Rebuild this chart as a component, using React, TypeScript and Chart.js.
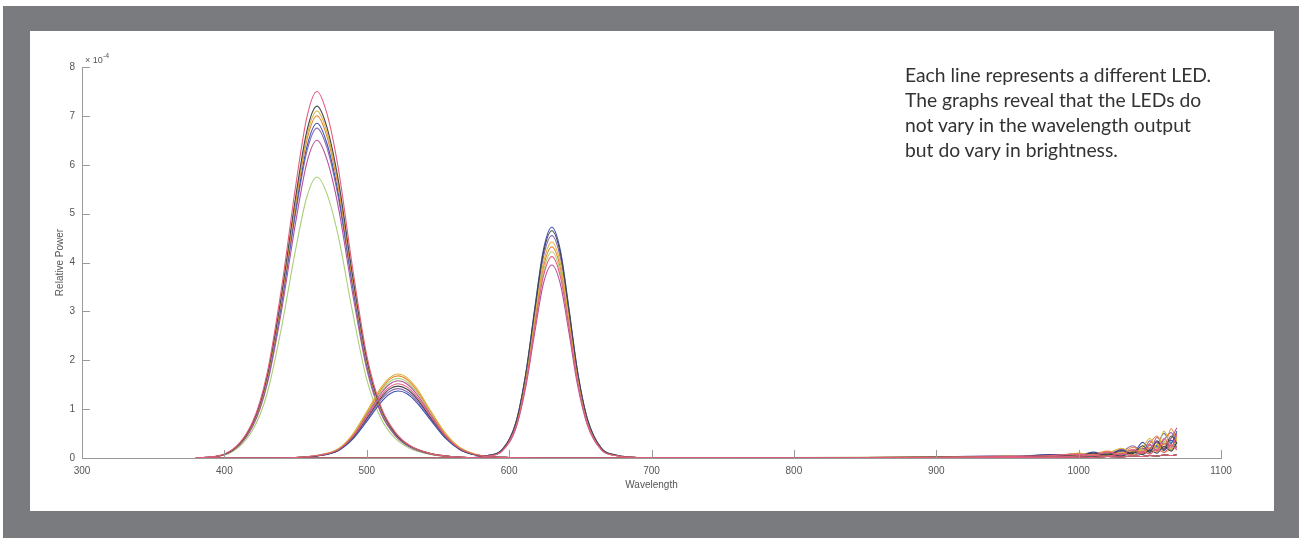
import React, { useEffect, useRef } from "react";
import { Chart, registerables } from "chart.js";
Chart.register(...registerables);

// ---- data (wavelength in nm, relative power in units of 1e-4) ----
const xTickValues = [300, 400, 500, 600, 700, 800, 900, 1000, 1100];
const yTickValues = [0, 1, 2, 3, 4, 5, 6, 7, 8];

const ledColors = ["#e35d7e", "#45454f", "#d9b53c", "#e8893a", "#3b55b0", "#8a6bb5", "#b5509a", "#a9cf78"];

const blueWavelengths = [380, 400, 420, 430, 440, 450, 458, 465, 472, 480, 490, 500, 510, 520, 530, 545, 560, 580];
const blueBand = [
  [0, 0.08, 0.75, 1.73, 3.45, 5.55, 6.98, 7.5, 7.05, 5.93, 3.9, 2.1, 1.05, 0.53, 0.26, 0.09, 0.03, 0],
  [0, 0.07, 0.72, 1.66, 3.31, 5.33, 6.7, 7.2, 6.77, 5.69, 3.74, 2.02, 1.01, 0.5, 0.25, 0.09, 0.03, 0],
  [0, 0.07, 0.71, 1.63, 3.27, 5.25, 6.6, 7.1, 6.67, 5.61, 3.69, 1.99, 0.99, 0.5, 0.25, 0.09, 0.03, 0],
  [0, 0.07, 0.7, 1.61, 3.22, 5.18, 6.51, 7.0, 6.58, 5.53, 3.64, 1.96, 0.98, 0.49, 0.25, 0.08, 0.03, 0],
  [0, 0.07, 0.69, 1.58, 3.15, 5.07, 6.37, 6.85, 6.44, 5.41, 3.56, 1.92, 0.96, 0.48, 0.24, 0.08, 0.03, 0],
  [0, 0.07, 0.68, 1.55, 3.11, 5.0, 6.28, 6.75, 6.35, 5.33, 3.51, 1.89, 0.95, 0.47, 0.24, 0.08, 0.03, 0],
  [0, 0.07, 0.65, 1.5, 2.99, 4.81, 6.05, 6.5, 6.11, 5.14, 3.38, 1.82, 0.91, 0.46, 0.23, 0.08, 0.03, 0],
  [0, 0.06, 0.58, 1.32, 2.65, 4.26, 5.35, 5.75, 5.41, 4.54, 2.99, 1.61, 0.81, 0.4, 0.2, 0.07, 0.02, 0],
];

const greenWavelengths = [380, 430, 450, 465, 480, 490, 500, 510, 516, 522, 528, 535, 545, 555, 565, 575, 585, 600, 620];
const greenBand = [
  [0, 0, 0.01, 0.05, 0.17, 0.43, 0.84, 1.27, 1.45, 1.52, 1.46, 1.26, 0.85, 0.46, 0.2, 0.08, 0.03, 0.01, 0],
  [0, 0, 0.01, 0.04, 0.16, 0.41, 0.81, 1.23, 1.41, 1.47, 1.41, 1.22, 0.82, 0.44, 0.19, 0.07, 0.03, 0.01, 0],
  [0, 0, 0.01, 0.05, 0.19, 0.48, 0.95, 1.44, 1.64, 1.72, 1.65, 1.43, 0.96, 0.52, 0.22, 0.09, 0.03, 0.01, 0],
  [0, 0, 0.01, 0.05, 0.18, 0.47, 0.92, 1.4, 1.61, 1.68, 1.61, 1.39, 0.94, 0.5, 0.22, 0.08, 0.03, 0.01, 0],
  [0, 0, 0.01, 0.04, 0.15, 0.38, 0.75, 1.14, 1.31, 1.37, 1.32, 1.14, 0.77, 0.41, 0.18, 0.07, 0.03, 0.01, 0],
  [0, 0, 0.01, 0.04, 0.16, 0.4, 0.78, 1.19, 1.36, 1.42, 1.36, 1.18, 0.8, 0.43, 0.18, 0.07, 0.03, 0.01, 0],
  [0, 0, 0.01, 0.05, 0.17, 0.44, 0.87, 1.32, 1.51, 1.58, 1.52, 1.31, 0.88, 0.47, 0.21, 0.08, 0.03, 0.01, 0],
  [0, 0, 0.01, 0.05, 0.18, 0.46, 0.9, 1.36, 1.56, 1.63, 1.56, 1.35, 0.91, 0.49, 0.21, 0.08, 0.03, 0.01, 0],
];

const redWavelengths = [380, 570, 585, 595, 605, 612, 618, 624, 630, 636, 642, 648, 655, 665, 675, 690];
const redBand = [
  [0, 0, 0.04, 0.14, 0.66, 1.57, 2.68, 3.71, 4.12, 3.71, 2.68, 1.57, 0.7, 0.16, 0.05, 0.01],
  [0, 0, 0.05, 0.16, 0.74, 1.77, 3.02, 4.19, 4.65, 4.19, 3.02, 1.77, 0.79, 0.19, 0.06, 0.01],
  [0, 0, 0.04, 0.15, 0.71, 1.68, 2.87, 3.98, 4.42, 3.98, 2.87, 1.68, 0.75, 0.18, 0.05, 0.01],
  [0, 0, 0.04, 0.15, 0.69, 1.64, 2.81, 3.89, 4.32, 3.89, 2.81, 1.64, 0.73, 0.17, 0.05, 0.01],
  [0, 0, 0.05, 0.17, 0.76, 1.79, 3.07, 4.25, 4.72, 4.25, 3.07, 1.79, 0.8, 0.19, 0.06, 0.01],
  [0, 0, 0.05, 0.16, 0.73, 1.73, 2.96, 4.1, 4.55, 4.1, 2.96, 1.73, 0.77, 0.18, 0.05, 0.01],
  [0, 0, 0.04, 0.14, 0.63, 1.5, 2.57, 3.56, 3.95, 3.56, 2.57, 1.5, 0.67, 0.16, 0.05, 0.01],
  [0, 0, 0.04, 0.15, 0.68, 1.6, 2.74, 3.8, 4.22, 3.8, 2.74, 1.6, 0.72, 0.17, 0.05, 0.01],
];

const tailWavelengths = [720, 800, 900, 950, 980, 1000, 1010, 1020, 1030, 1038, 1045, 1050, 1055, 1060, 1065, 1069];
const redTails = [
  [0, 0, 0.01, 0.03, 0.05, 0.08, 0.05, 0.12, 0.07, 0.18, 0.1, 0.28, 0.15, 0.4, 0.22, 0.48],
  [0, 0, 0.02, 0.02, 0.06, 0.04, 0.1, 0.06, 0.15, 0.09, 0.25, 0.12, 0.35, 0.18, 0.45, 0.3],
  [0, 0.01, 0.01, 0.04, 0.03, 0.1, 0.06, 0.09, 0.2, 0.12, 0.22, 0.4, 0.2, 0.55, 0.25, 0.38],
  [0, 0, 0.02, 0.03, 0.04, 0.06, 0.08, 0.14, 0.08, 0.22, 0.14, 0.3, 0.45, 0.22, 0.6, 0.35],
  [0, 0.01, 0.01, 0.02, 0.07, 0.05, 0.12, 0.07, 0.17, 0.1, 0.32, 0.18, 0.26, 0.5, 0.3, 0.55],
  [0, 0, 0.02, 0.05, 0.03, 0.09, 0.04, 0.11, 0.13, 0.25, 0.12, 0.35, 0.22, 0.38, 0.52, 0.28],
  [0, 0.01, 0.01, 0.03, 0.05, 0.07, 0.09, 0.05, 0.18, 0.14, 0.2, 0.15, 0.42, 0.28, 0.4, 0.62],
  [0, 0, 0.02, 0.02, 0.04, 0.05, 0.07, 0.1, 0.06, 0.16, 0.09, 0.22, 0.18, 0.33, 0.2, 0.45],
];
const blueTails = [
  [0, 0, 0.01, 0.02, 0.02, 0.04, 0.06, 0.03, 0.09, 0.05, 0.13, 0.08, 0.18, 0.11, 0.26, 0.16],
  [0, 0.01, 0, 0.01, 0.04, 0.03, 0.02, 0.08, 0.04, 0.12, 0.07, 0.16, 0.1, 0.24, 0.14, 0.32],
  [0, 0, 0.01, 0.03, 0.02, 0.05, 0.04, 0.06, 0.11, 0.06, 0.17, 0.09, 0.28, 0.12, 0.2, 0.42],
  [0, 0, 0.02, 0.01, 0.03, 0.02, 0.07, 0.05, 0.08, 0.14, 0.08, 0.21, 0.13, 0.3, 0.18, 0.25],
  [0, 0.01, 0.01, 0.02, 0.03, 0.06, 0.03, 0.09, 0.06, 0.1, 0.19, 0.11, 0.24, 0.15, 0.36, 0.22],
  [0, 0, 0.01, 0.02, 0.05, 0.03, 0.05, 0.04, 0.12, 0.07, 0.11, 0.26, 0.14, 0.21, 0.3, 0.5],
  [0, 0, 0.01, 0.03, 0.02, 0.04, 0.08, 0.06, 0.07, 0.15, 0.09, 0.18, 0.32, 0.17, 0.27, 0.2],
  [0, 0.01, 0.02, 0.01, 0.04, 0.03, 0.04, 0.1, 0.05, 0.09, 0.16, 0.12, 0.2, 0.35, 0.16, 0.4],
];
const greenTail = [0, 0, 0, 0.01, 0.01, 0.02, 0.01, 0.03, 0.02, 0.04, 0.03, 0.05, 0.04, 0.06, 0.05, 0.07];

const noteLines = [
  "Each line represents a different LED.",
  "The graphs reveal that the LEDs do",
  "not vary in the wavelength output",
  "but do vary in brightness.",
];

// ---- helpers ----
function zip(xs: number[], ys: number[]) {
  return xs.map((x, i) => ({ x, y: ys[i] }));
}

const AXIS_COLOR = "#9a9a9a";
const TICK_FONT = { family: "'Liberation Sans', Arial, sans-serif", size: 10 };

const innerTicks = {
  id: "innerTicks",
  afterDraw(chart: any) {
    const { ctx, chartArea, scales } = chart;
    const xs = scales.x;
    const ys = scales.y;
    ctx.save();
    ctx.strokeStyle = AXIS_COLOR;
    ctx.lineWidth = 1;
    ctx.beginPath();
    xTickValues.forEach((v) => {
      const px = Math.round(xs.getPixelForValue(v)) + 0.5;
      ctx.moveTo(px, chartArea.bottom);
      ctx.lineTo(px, chartArea.bottom - 8);
    });
    yTickValues.forEach((v) => {
      const py = Math.round(ys.getPixelForValue(v)) + 0.5;
      ctx.moveTo(chartArea.left, py);
      ctx.lineTo(chartArea.left + 8, py);
    });
    ctx.stroke();
    // exponent label
    ctx.fillStyle = "#555";
    ctx.textBaseline = "middle";
    ctx.textAlign = "left";
    ctx.font = "9px 'Liberation Sans', Arial, sans-serif";
    const topY = ys.getPixelForValue(8);
    ctx.fillText("\u00d7 10", chartArea.left + 3, topY - 6);
    ctx.font = "7px 'Liberation Sans', Arial, sans-serif";
    ctx.fillText("-4", chartArea.left + 21, topY - 11);
    ctx.restore();
  },
};

export default function App() {
  const canvasRef = useRef<HTMLCanvasElement | null>(null);

  useEffect(() => {
    if (!canvasRef.current) return;
    const datasets: any[] = [];
    for (let i = 0; i < ledColors.length; i++) {
      const common = {
        borderColor: ledColors[i],
        backgroundColor: ledColors[i],
        borderWidth: 1.1,
        pointRadius: 0,
        fill: false,
        tension: 0.35,
        cubicInterpolationMode: "monotone",
      };
      datasets.push({
        ...common,
        label: `LED ${i + 1} blue`,
        data: zip(blueWavelengths, blueBand[i]).concat(zip(tailWavelengths, blueTails[i])),
      });
      datasets.push({
        ...common,
        label: `LED ${i + 1} green`,
        data: zip(greenWavelengths, greenBand[i]).concat(zip(tailWavelengths, greenTail)),
      });
      datasets.push({
        ...common,
        label: `LED ${i + 1} red`,
        data: zip(redWavelengths, redBand[i]).concat(zip(tailWavelengths, redTails[i])),
      });
    }

    const chart = new Chart(canvasRef.current, {
      type: "line",
      data: { datasets },
      plugins: [innerTicks],
      options: {
        animation: false,
        responsive: false,
        layout: { padding: { top: 36, right: 53, left: 0, bottom: 0 } },
        plugins: { legend: { display: false }, tooltip: { enabled: false } },
        scales: {
          x: {
            type: "linear",
            min: 300,
            max: 1100,
            afterFit: (s: any) => {
              s.height = 53;
            },
            grid: { display: true, drawOnChartArea: false, drawTicks: false },
            border: { display: true, color: AXIS_COLOR, width: 1 },
            afterBuildTicks: (s: any) => {
              s.ticks = xTickValues.map((v) => ({ value: v }));
            },
            ticks: {
              padding: 7,
              font: TICK_FONT,
              color: "#555",
              maxRotation: 0,
              autoSkip: false,
              callback: (v: any) => String(v),
            },
            title: {
              display: true,
              text: "Wavelength",
              font: TICK_FONT,
              color: "#555",
              padding: { top: 0, bottom: 20 },
            },
          },
          y: {
            type: "linear",
            min: 0,
            max: 8,
            afterFit: (s: any) => {
              s.width = 52;
            },
            grid: { display: true, drawOnChartArea: false, drawTicks: false },
            border: { display: true, color: AXIS_COLOR, width: 1 },
            afterBuildTicks: (s: any) => {
              s.ticks = yTickValues.map((v) => ({ value: v }));
            },
            ticks: {
              padding: 7,
              font: TICK_FONT,
              color: "#555",
              autoSkip: false,
              callback: (v: any) => String(v),
            },
            title: {
              display: true,
              text: "Relative Power",
              font: TICK_FONT,
              color: "#555",
              padding: { top: 24, bottom: 0 },
            },
          },
        },
      } as any,
    });
    return () => chart.destroy();
  }, []);

  return (
    <div style={{ position: "absolute", left: 0, top: 0, width: 1299, height: 538, background: "#ffffff", overflow: "hidden" }}>
      <div style={{ position: "absolute", left: 3, top: 6, width: 1296, height: 532, background: "#7a7b7f" }} />
      <div style={{ position: "absolute", left: 30, top: 31, width: 1244, height: 480, background: "#ffffff" }}>
        <canvas ref={canvasRef} width={1244} height={480} style={{ display: "block", width: 1244, height: 480 }} />
        <div
          style={{
            position: "absolute",
            left: 875,
            top: 31,
            fontFamily: "Lato, 'Open Sans', sans-serif",
            fontSize: 19.3,
            lineHeight: "25px",
            color: "#333",
            whiteSpace: "nowrap",
          }}
        >
          {noteLines.map((t, i) => (
            <div key={i}>{t}</div>
          ))}
        </div>
      </div>
    </div>
  );
}
